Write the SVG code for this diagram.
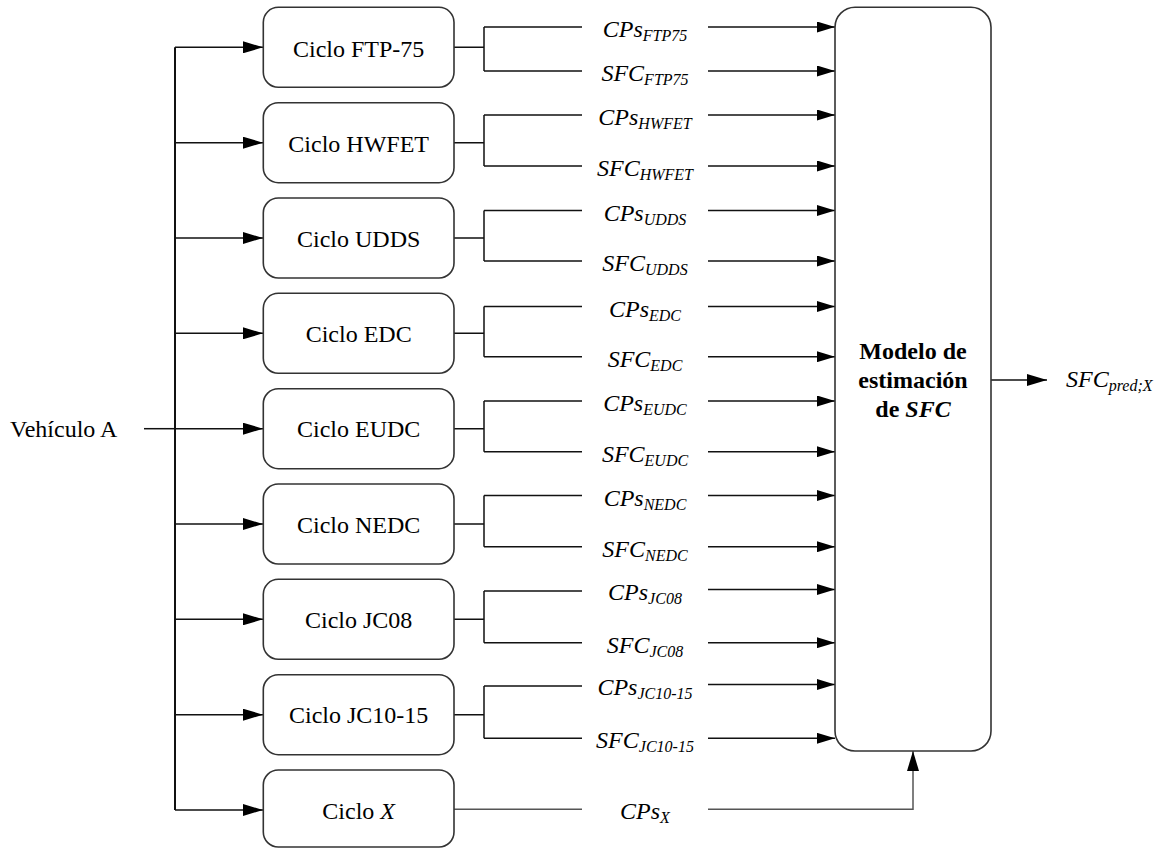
<svg xmlns="http://www.w3.org/2000/svg" width="1162" height="848" viewBox="0 0 1162 848">
<style>
.box{fill:#fff;stroke:#333;stroke-width:1.6}
.ln{fill:none;stroke:#111;stroke-width:1.5}
.lg{fill:none;stroke:#555;stroke-width:1.5}
text{font-family:'Liberation Serif','DejaVu Serif',serif;font-size:24px;fill:#000}
.lab{font-style:italic}
.sub{font-size:16px}
.b{font-weight:bold}
</style>
<defs>
<marker id="ah" markerUnits="userSpaceOnUse" markerWidth="20" markerHeight="12" refX="20" refY="6" orient="auto"><path d="M0,0 L20,6 L0,12 z" fill="#000"/></marker>
<marker id="ah2" markerUnits="userSpaceOnUse" markerWidth="18" markerHeight="11" refX="18" refY="5.5" orient="auto"><path d="M0,0 L18,5.5 L0,11 z" fill="#000"/></marker>
</defs>
<g id="connectors">
<path class="ln" d="M144,428.7 H175" />
<path class="ln" style="stroke-width:2" d="M175,47.3 V810" />
<path class="ln" d="M175,47.3 H263" marker-end="url(#ah)"/>
<path class="ln" d="M175,142.7 H263" marker-end="url(#ah)"/>
<path class="ln" d="M175,238 H263" marker-end="url(#ah)"/>
<path class="ln" d="M175,333.3 H263" marker-end="url(#ah)"/>
<path class="ln" d="M175,428.7 H263" marker-end="url(#ah)"/>
<path class="ln" d="M175,524 H263" marker-end="url(#ah)"/>
<path class="ln" d="M175,619.3 H263" marker-end="url(#ah)"/>
<path class="ln" d="M175,714.7 H263" marker-end="url(#ah)"/>
<path class="ln" d="M175,810 H263" marker-end="url(#ah)"/>
<path class="ln" d="M454,47.3 H484 M484,27 V71 M484,27 H582 M484,71 H582" />
<path class="ln" d="M454,142.7 H484 M484,115 V166 M484,115 H582 M484,166 H582" />
<path class="ln" d="M454,238 H484 M484,210.5 V261 M484,210.5 H582 M484,261 H582" />
<path class="ln" d="M454,333.3 H484 M484,306.5 V356.7 M484,306.5 H582 M484,356.7 H582" />
<path class="ln" d="M454,428.7 H484 M484,401 V451.7 M484,401 H582 M484,451.7 H582" />
<path class="ln" d="M454,524 H484 M484,495.5 V546.7 M484,495.5 H582 M484,546.7 H582" />
<path class="ln" d="M454,619.3 H484 M484,591 V642.7 M484,591 H582 M484,642.7 H582" />
<path class="ln" d="M454,714.7 H484 M484,686 V738.3 M484,686 H582 M484,738.3 H582" />
<path class="ln" d="M708,27 H835" marker-end="url(#ah2)"/>
<path class="ln" d="M708,71 H835" marker-end="url(#ah2)"/>
<path class="ln" d="M708,115 H835" marker-end="url(#ah2)"/>
<path class="ln" d="M708,166 H835" marker-end="url(#ah2)"/>
<path class="ln" d="M708,210.5 H835" marker-end="url(#ah2)"/>
<path class="ln" d="M708,261 H835" marker-end="url(#ah2)"/>
<path class="ln" d="M708,306.5 H835" marker-end="url(#ah2)"/>
<path class="ln" d="M708,356.7 H835" marker-end="url(#ah2)"/>
<path class="ln" d="M708,401 H835" marker-end="url(#ah2)"/>
<path class="ln" d="M708,451.7 H835" marker-end="url(#ah2)"/>
<path class="ln" d="M708,495.5 H835" marker-end="url(#ah2)"/>
<path class="ln" d="M708,546.7 H835" marker-end="url(#ah2)"/>
<path class="ln" d="M708,589.5 H835" marker-end="url(#ah2)"/>
<path class="ln" d="M708,642.7 H835" marker-end="url(#ah2)"/>
<path class="ln" d="M708,684.5 H835" marker-end="url(#ah2)"/>
<path class="ln" d="M708,738.3 H835" marker-end="url(#ah2)"/>
<path class="lg" d="M454,809.3 H582" />
<path class="lg" d="M708,809.3 H913 V751" marker-end="url(#ah)"/>
<path class="ln" d="M991,380 H1047" marker-end="url(#ah)"/>
</g>
<g id="vehiculo"><text x="10" y="436.5">Vehículo A</text></g>
<g id="ftp75"><rect class="box" x="263.3" y="7.3" width="190.7" height="80" rx="15"/><text x="358.7" y="56.5" text-anchor="middle">Ciclo FTP-75</text></g>
<g id="hwfet"><rect class="box" x="263.3" y="102.7" width="190.7" height="80" rx="15"/><text x="358.7" y="151.5" text-anchor="middle">Ciclo HWFET</text></g>
<g id="udds"><rect class="box" x="263.3" y="198" width="190.7" height="80" rx="15"/><text x="358.7" y="246.7" text-anchor="middle">Ciclo UDDS</text></g>
<g id="edc"><rect class="box" x="263.3" y="293.3" width="190.7" height="80" rx="15"/><text x="358.7" y="342" text-anchor="middle">Ciclo EDC</text></g>
<g id="eudc"><rect class="box" x="263.3" y="388.7" width="190.7" height="80" rx="15"/><text x="358.7" y="437.4" text-anchor="middle">Ciclo EUDC</text></g>
<g id="nedc"><rect class="box" x="263.3" y="484" width="190.7" height="80" rx="15"/><text x="358.7" y="532.7" text-anchor="middle">Ciclo NEDC</text></g>
<g id="jc08"><rect class="box" x="263.3" y="579.3" width="190.7" height="80" rx="15"/><text x="358.7" y="628" text-anchor="middle">Ciclo JC08</text></g>
<g id="jc1015"><rect class="box" x="263.3" y="674.7" width="190.7" height="80" rx="15"/><text x="358.7" y="723.4" text-anchor="middle">Ciclo JC10-15</text></g>
<g id="cicloX"><rect class="box" x="263.3" y="770" width="190.7" height="77" rx="15"/><text x="358.7" y="818.7" text-anchor="middle">Ciclo <tspan font-style="italic">X</tspan></text></g>
<g id="labels">
<text class="lab" x="645" y="37" text-anchor="middle">CPs<tspan class="sub" dy="4">FTP75</tspan></text>
<text class="lab" x="645" y="81" text-anchor="middle">SFC<tspan class="sub" dy="4">FTP75</tspan></text>
<text class="lab" x="645" y="125" text-anchor="middle">CPs<tspan class="sub" dy="4">HWFET</tspan></text>
<text class="lab" x="645" y="176" text-anchor="middle">SFC<tspan class="sub" dy="4">HWFET</tspan></text>
<text class="lab" x="645" y="220.5" text-anchor="middle">CPs<tspan class="sub" dy="4">UDDS</tspan></text>
<text class="lab" x="645" y="271" text-anchor="middle">SFC<tspan class="sub" dy="4">UDDS</tspan></text>
<text class="lab" x="645" y="316.5" text-anchor="middle">CPs<tspan class="sub" dy="4">EDC</tspan></text>
<text class="lab" x="645" y="366.7" text-anchor="middle">SFC<tspan class="sub" dy="4">EDC</tspan></text>
<text class="lab" x="645" y="411" text-anchor="middle">CPs<tspan class="sub" dy="4">EUDC</tspan></text>
<text class="lab" x="645" y="461.7" text-anchor="middle">SFC<tspan class="sub" dy="4">EUDC</tspan></text>
<text class="lab" x="645" y="505.5" text-anchor="middle">CPs<tspan class="sub" dy="4">NEDC</tspan></text>
<text class="lab" x="645" y="556.7" text-anchor="middle">SFC<tspan class="sub" dy="4">NEDC</tspan></text>
<text class="lab" x="645" y="599.5" text-anchor="middle">CPs<tspan class="sub" dy="4">JC08</tspan></text>
<text class="lab" x="645" y="652.7" text-anchor="middle">SFC<tspan class="sub" dy="4">JC08</tspan></text>
<text class="lab" x="645" y="694.5" text-anchor="middle">CPs<tspan class="sub" dy="4">JC10-15</tspan></text>
<text class="lab" x="645" y="748.3" text-anchor="middle">SFC<tspan class="sub" dy="4">JC10-15</tspan></text>
<text class="lab" x="645" y="819" text-anchor="middle">CPs<tspan class="sub" dy="4">X</tspan></text>
</g>
<g id="modelo">
<rect class="box" x="835" y="7.3" width="156" height="743.7" rx="20"/>
<text class="b" x="913" y="359" text-anchor="middle">Modelo de</text>
<text class="b" x="913" y="388" text-anchor="middle">estimación</text>
<text class="b" x="913" y="417" text-anchor="middle">de <tspan font-style="italic">SFC</tspan></text>
</g>
<g id="output"><text class="lab" x="1066" y="387">SFC<tspan class="sub" dy="4">pred;X</tspan></text></g>
</svg>
